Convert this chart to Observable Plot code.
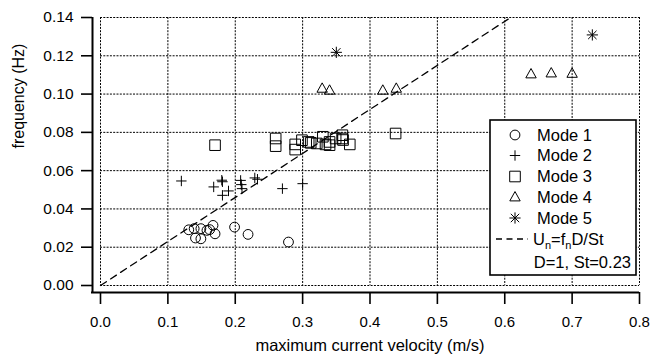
<!DOCTYPE html>
<html><head><meta charset="utf-8">
<script src="https://cdn.jsdelivr.net/npm/d3@7"></script>
<script src="https://cdn.jsdelivr.net/npm/@observablehq/plot@0.6"></script>
<style>
body{margin:0;background:#fff}
#chart{position:relative;width:666px;height:358px;overflow:hidden}
</style>
</head><body><div id="chart"></div>
<script>
// ---- data ----
const xTicks = [0, 0.1, 0.2, 0.3, 0.4, 0.5, 0.6, 0.7, 0.8];
const yTicks = [0, 0.02, 0.04, 0.06, 0.08, 0.10, 0.12, 0.14];
const xTitle = "maximum current velocity (m/s)";
const yTitle = "frequency (Hz)";
const legendLabels = ["Mode 1", "Mode 2", "Mode 3", "Mode 4", "Mode 5"];
const D = 1, St = 0.23;

const mode1X = [0.131, 0.139, 0.141, 0.149, 0.149, 0.158, 0.162, 0.167, 0.170, 0.199, 0.219, 0.279];
const mode1Y = [0.0291, 0.0297, 0.0248, 0.0297, 0.0244, 0.0288, 0.0292, 0.0314, 0.0270, 0.0305, 0.0267, 0.0227];

const mode2X = [0.120, 0.180, 0.181, 0.168, 0.190, 0.181, 0.208, 0.209, 0.210, 0.229, 0.233, 0.270, 0.300];
const mode2Y = [0.0546, 0.0550, 0.0542, 0.0515, 0.0494, 0.0471, 0.0549, 0.0527, 0.0506, 0.0562, 0.0555, 0.0506, 0.0532];

const mode3X = [0.170, 0.260, 0.260, 0.289, 0.289, 0.299, 0.309, 0.312, 0.321, 0.330, 0.334, 0.340, 0.340, 0.349, 0.359, 0.359, 0.360, 0.370, 0.438];
const mode3Y = [0.0733, 0.0768, 0.0728, 0.0737, 0.0710, 0.0759, 0.0750, 0.0745, 0.0742, 0.0777, 0.0737, 0.0733, 0.0750, 0.0768, 0.0785, 0.0768, 0.0760, 0.0737, 0.0794];

const mode4X = [0.329, 0.340, 0.419, 0.439, 0.639, 0.669, 0.700];
const mode4Y = [0.1030, 0.1020, 0.1020, 0.1030, 0.1105, 0.1110, 0.1108];

const mode5X = [0.350, 0.730];
const mode5Y = [0.1218, 0.1309];

const toRows = (xs, ys) => xs.map((x, i) => ({x, y: ys[i]}));
const modes = [toRows(mode1X, mode1Y), toRows(mode2X, mode2Y), toRows(mode3X, mode3Y), toRows(mode4X, mode4Y), toRows(mode5X, mode5Y)];
const fRange = [0, 0.14];
const theory = fRange.map(f => ({x: f * D / St, y: f}));

// ---- symbols ----
const symCircle = {draw(c){const r=4.9;c.moveTo(r,0);c.arc(0,0,r,0,2*Math.PI);}};
const symPlus = {draw(c){const r=5.2;c.moveTo(-r,0);c.lineTo(r,0);c.moveTo(0,-r);c.lineTo(0,r);}};
const symSquare = {draw(c){const r=5.3;c.moveTo(-r,-r);c.lineTo(r,-r);c.lineTo(r,r);c.lineTo(-r,r);c.closePath();}};
const symTri = {draw(c){const r=5.2;c.moveTo(0,-r*1.05);c.lineTo(r,r*0.75);c.lineTo(-r,r*0.75);c.closePath();}};
const symStar = {draw(c){const r=5.6,a=r*0.75;c.moveTo(-a,-a);c.lineTo(a,a);c.moveTo(-a,a);c.lineTo(a,-a);c.moveTo(-r,0);c.lineTo(r,0);c.moveTo(0,-r);c.lineTo(0,r);}};
const symbols = [symCircle, symPlus, symSquare, symTri, symStar];

const font = "'Liberation Sans', Arial, Helvetica, sans-serif";

const chart = Plot.plot({
  width: 666, height: 358,
  marginLeft: 100, marginRight: 27, marginTop: 17, marginBottom: 73,
  x: {domain: [0, 0.8]},
  y: {domain: [0, 0.14]},
  style: {fontFamily: font, fontSize: "15px", color: "black", background: "white", overflow: "visible"},
  marks: [
    Plot.gridX(xTicks, {stroke: "black", strokeOpacity: 1, strokeWidth: 1, strokeDasharray: "2,1.3"}),
    Plot.gridY(yTicks, {stroke: "black", strokeOpacity: 1, strokeWidth: 1, strokeDasharray: "2,1.3"}),
    Plot.axisX(xTicks, {tickSize: 12, dy: 7, tickPadding: 12, tickFormat: d => d.toFixed(1), label: null, strokeWidth: 1.6, fontSize: 15}),
    Plot.axisY(yTicks, {tickSize: 11, dx: -8, tickPadding: 8, tickFormat: d => d.toFixed(2), label: null, strokeWidth: 1.6, fontSize: 15.5}),
    Plot.ruleX([0], {dx: -8, insetBottom: -7, stroke: "black", strokeWidth: 2}),
    Plot.ruleY([0], {dy: 7, insetLeft: -9, stroke: "black", strokeWidth: 2}),
    Plot.line(theory, {x: "x", y: "y", stroke: "black", strokeWidth: 1.3, strokeDasharray: "7,5"}),
    ...modes.map((rows, i) => Plot.dot(rows, {x: "x", y: "y", symbol: symbols[i], stroke: "black", fill: "none", strokeWidth: 1})),
    Plot.text([xTitle], {text: d => d, frameAnchor: "bottom", dy: 60, lineAnchor: "middle", fontSize: 16.5}),
    Plot.text([yTitle], {text: d => d, frameAnchor: "left", dx: -82, dy: -3, rotate: -90, lineAnchor: "middle", fontSize: 16})
  ]
});
document.getElementById("chart").appendChild(chart);

// ---- legend (inside plot box) ----
const svg = d3.select(chart);
const g = svg.append("g").attr("font-family", font).attr("font-size", 16.5).attr("text-anchor", "start");
g.append("rect").attr("x", 490).attr("y", 120).attr("width", 146).attr("height", 155)
  .attr("fill", "white").attr("stroke", "black").attr("stroke-width", 1.6);
const rowY = [135, 155.5, 176.5, 197, 218, 239, 262];
legendLabels.forEach((lab, i) => {
  g.append("path").attr("d", d3.symbol(symbols[i])()).attr("transform", `translate(515,${rowY[i]})`)
    .attr("fill", "none").attr("stroke", "black").attr("stroke-width", 1);
  g.append("text").attr("x", 537).attr("y", rowY[i]).attr("dy", "0.35em").attr("text-anchor", "start").text(lab);
});
g.append("line").attr("x1", 496).attr("x2", 528).attr("y1", rowY[5]).attr("y2", rowY[5])
  .attr("stroke", "black").attr("stroke-width", 1.3).attr("stroke-dasharray", "6,4.5");
const t = g.append("text").attr("x", 533).attr("y", rowY[5]).attr("dy", "0.35em").attr("text-anchor", "start");
t.append("tspan").text("U");
t.append("tspan").attr("font-size", 11).attr("dy", 4).text("n");
t.append("tspan").attr("dy", -4).text("=f");
t.append("tspan").attr("font-size", 11).attr("dy", 4).text("n");
t.append("tspan").attr("dy", -4).text("D/St");
g.append("text").attr("x", 631).attr("y", rowY[6]).attr("dy", "0.35em").attr("text-anchor", "end")
  .text(`D=${D}, St=${St}`);
</script>
</body></html>
